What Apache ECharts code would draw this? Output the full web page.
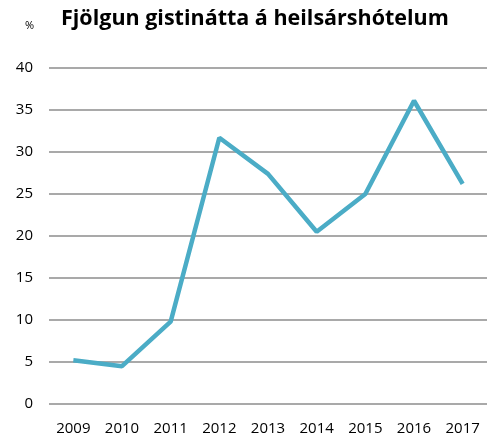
<!DOCTYPE html>
<html>
<head>
<meta charset="utf-8">
<script src="https://cdn.jsdelivr.net/npm/echarts@6/dist/echarts.min.js"></script>
<style>
  html, body { margin: 0; padding: 0; background: #fff; }
  #chart { width: 489px; height: 437px; }
</style>
</head>
<body>
<div id="chart"></div>
<script>
  var years = ['2009', '2010', '2011', '2012', '2013', '2014', '2015', '2016', '2017'];
  var growth = [5.2, 4.5, 9.8, 31.7, 27.4, 20.5, 25.0, 36.1, 26.2];

  var chart = echarts.init(document.getElementById('chart'));
  var option = {
    animation: false,
    textStyle: { fontFamily: 'Open Sans, Noto Sans, sans-serif' },
    title: [
      {
        text: 'Fjölgun gistinátta á heilsárshótelum',
        left: 56,
        top: 3,
        textStyle: { fontSize: 21.5, fontWeight: 'bold', color: '#000' }
      },
      {
        text: '%',
        left: 20,
        top: 15,
        textStyle: { fontSize: 11, fontWeight: 'normal', color: '#000' }
      }
    ],
    grid: { left: 49, right: 2, top: 68, bottom: 33, containLabel: false },
    xAxis: {
      type: 'category',
      data: years,
      boundaryGap: true,
      axisLine: { show: false },
      axisTick: { show: false },
      axisLabel: { color: '#000', fontSize: 15, margin: 17 }
    },
    yAxis: {
      type: 'value',
      min: 0,
      max: 40,
      interval: 5,
      axisLine: { show: false },
      axisTick: { show: false },
      axisLabel: { color: '#000', fontSize: 15, margin: 16 },
      splitLine: { lineStyle: { color: '#8c8c8c', width: 1.5 } }
    },
    series: [{
      type: 'line',
      data: growth,
      symbol: 'none',
      lineStyle: { color: '#4bacc6', width: 4.5 }
    }]
  };
  chart.setOption(option);
</script>
</body>
</html>
